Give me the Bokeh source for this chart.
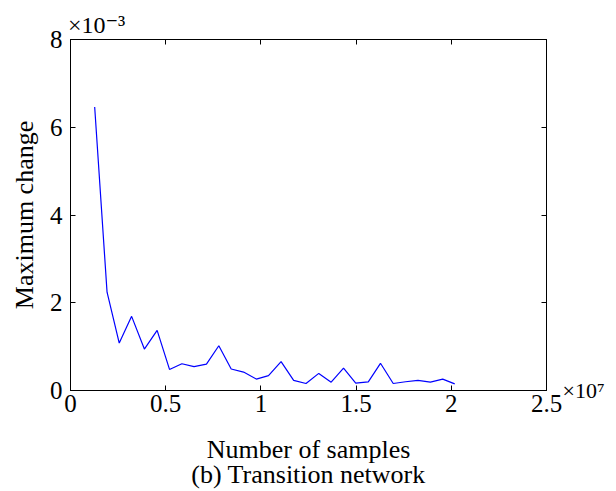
from bokeh.plotting import figure
from bokeh.models import Range1d, FixedTicker, LinearAxis, Title
from bokeh.embed import file_html
from bokeh.resources import INLINE

# ---- data ----
samples = [1.27e6, 1.92e6, 2.56e6, 3.21e6, 3.88e6, 4.55e6, 5.20e6, 5.85e6, 6.49e6, 7.14e6,
           7.79e6, 8.44e6, 9.09e6, 9.76e6, 1.040e7, 1.106e7, 1.172e7, 1.237e7, 1.304e7, 1.369e7,
           1.434e7, 1.498e7, 1.564e7, 1.628e7, 1.695e7, 1.760e7, 1.825e7, 1.890e7, 1.955e7, 2.018e7]
max_change_e3 = [6.46, 2.24, 1.08, 1.69, 0.945, 1.37, 0.48, 0.61, 0.545, 0.60,
                 1.02, 0.49, 0.42, 0.26, 0.34, 0.66, 0.23, 0.16, 0.39, 0.19,
                 0.51, 0.17, 0.195, 0.62, 0.16, 0.20, 0.23, 0.19, 0.26, 0.15]
max_change = [v * 1e-3 for v in max_change_e3]

x_ticks = [0, 5e6, 1e7, 1.5e7, 2e7, 2.5e7]
x_tick_labels = ["0", "0.5", "1", "1.5", "2", "2.5"]
y_ticks = [0, 0.002, 0.004, 0.006, 0.008]
y_tick_labels = ["0", "2", "4", "6", "8"]

x_exponent = "\u00d710\u2077"          # ×10^7
y_exponent = "\u00d710\u207b\u00b3"    # ×10^-3
x_title = "Number of samples"
y_title = "Maximum change"
caption = "(b) Transition network"

FONT = "'Liberation Serif', 'DejaVu Serif', serif"
TICK_SIZE = "25px"
TITLE_SIZE = "26px"

p = figure(width=616, height=491, output_backend="svg", toolbar_location=None,
           x_range=Range1d(0, 2.5e7), y_range=Range1d(0, 0.008),
           min_border_left=70, min_border_right=70, min_border_top=39, min_border_bottom=101,
           x_axis_type=None, y_axis_type=None)
p.grid.visible = False
p.outline_line_color = "black"
p.outline_line_width = 1
p.background_fill_color = "white"
p.border_fill_color = "white"

def style_axis(ax, ticks, labels):
    ax.ticker = FixedTicker(ticks=ticks)
    ax.major_label_overrides = {t: l for t, l in zip(ticks, labels)}
    ax.major_tick_in = 5
    ax.major_tick_out = 0
    ax.minor_tick_in = 0
    ax.minor_tick_out = 0
    ax.axis_line_color = "black"
    ax.major_tick_line_color = "black"
    ax.major_label_text_font = FONT
    ax.major_label_text_font_size = TICK_SIZE
    ax.major_label_text_color = "black"
    ax.axis_label_text_font = FONT
    ax.axis_label_text_font_style = "normal"
    ax.axis_label_text_font_size = TITLE_SIZE
    ax.axis_label_text_color = "black"

# bottom axis with tick labels and title
xb = LinearAxis()
style_axis(xb, x_ticks, x_tick_labels)
xb.major_label_standoff = 4
xb.axis_label = x_title
xb.axis_label_standoff = 20
p.add_layout(xb, "below")

# caption below the x title
p.add_layout(Title(text=caption, align="center", offset=10, text_font=FONT,
                   text_font_size=TITLE_SIZE, text_font_style="normal",
                   text_color="black", standoff=-17), "below")

# left axis with tick labels
yl = LinearAxis()
style_axis(yl, y_ticks, y_tick_labels)
yl.major_label_standoff = 8
p.add_layout(yl, "left")

# y title
p.add_layout(Title(text=y_title, align="center", text_font=FONT,
                   text_font_size=TITLE_SIZE, text_font_style="normal",
                   text_color="black", standoff=15), "left")

# top axis: ticks only
xt = LinearAxis()
style_axis(xt, x_ticks, [""] * len(x_ticks))
xt.major_label_standoff = 0
p.add_layout(xt, "above")

# top exponent marker (axis without line/ticks used as text carrier)
xe = LinearAxis()
style_axis(xe, [1.37e6], [y_exponent])
xe.axis_line_color = None
xe.major_tick_line_color = None
xe.major_label_text_font_size = "24px"
xe.major_label_standoff = 2
p.add_layout(xe, "above")

# right axis: ticks, plus the x exponent marker next to the 2.5 label
yr = LinearAxis()
style_axis(yr, y_ticks, [x_exponent] + [""] * (len(y_ticks) - 1))
yr.major_label_text_font_size = "22px"
yr.major_label_standoff = 16
p.add_layout(yr, "right")

p.line(samples, max_change, line_color="#0000ff", line_width=1.2)

open("out.html", "w").write(file_html(p, INLINE))
